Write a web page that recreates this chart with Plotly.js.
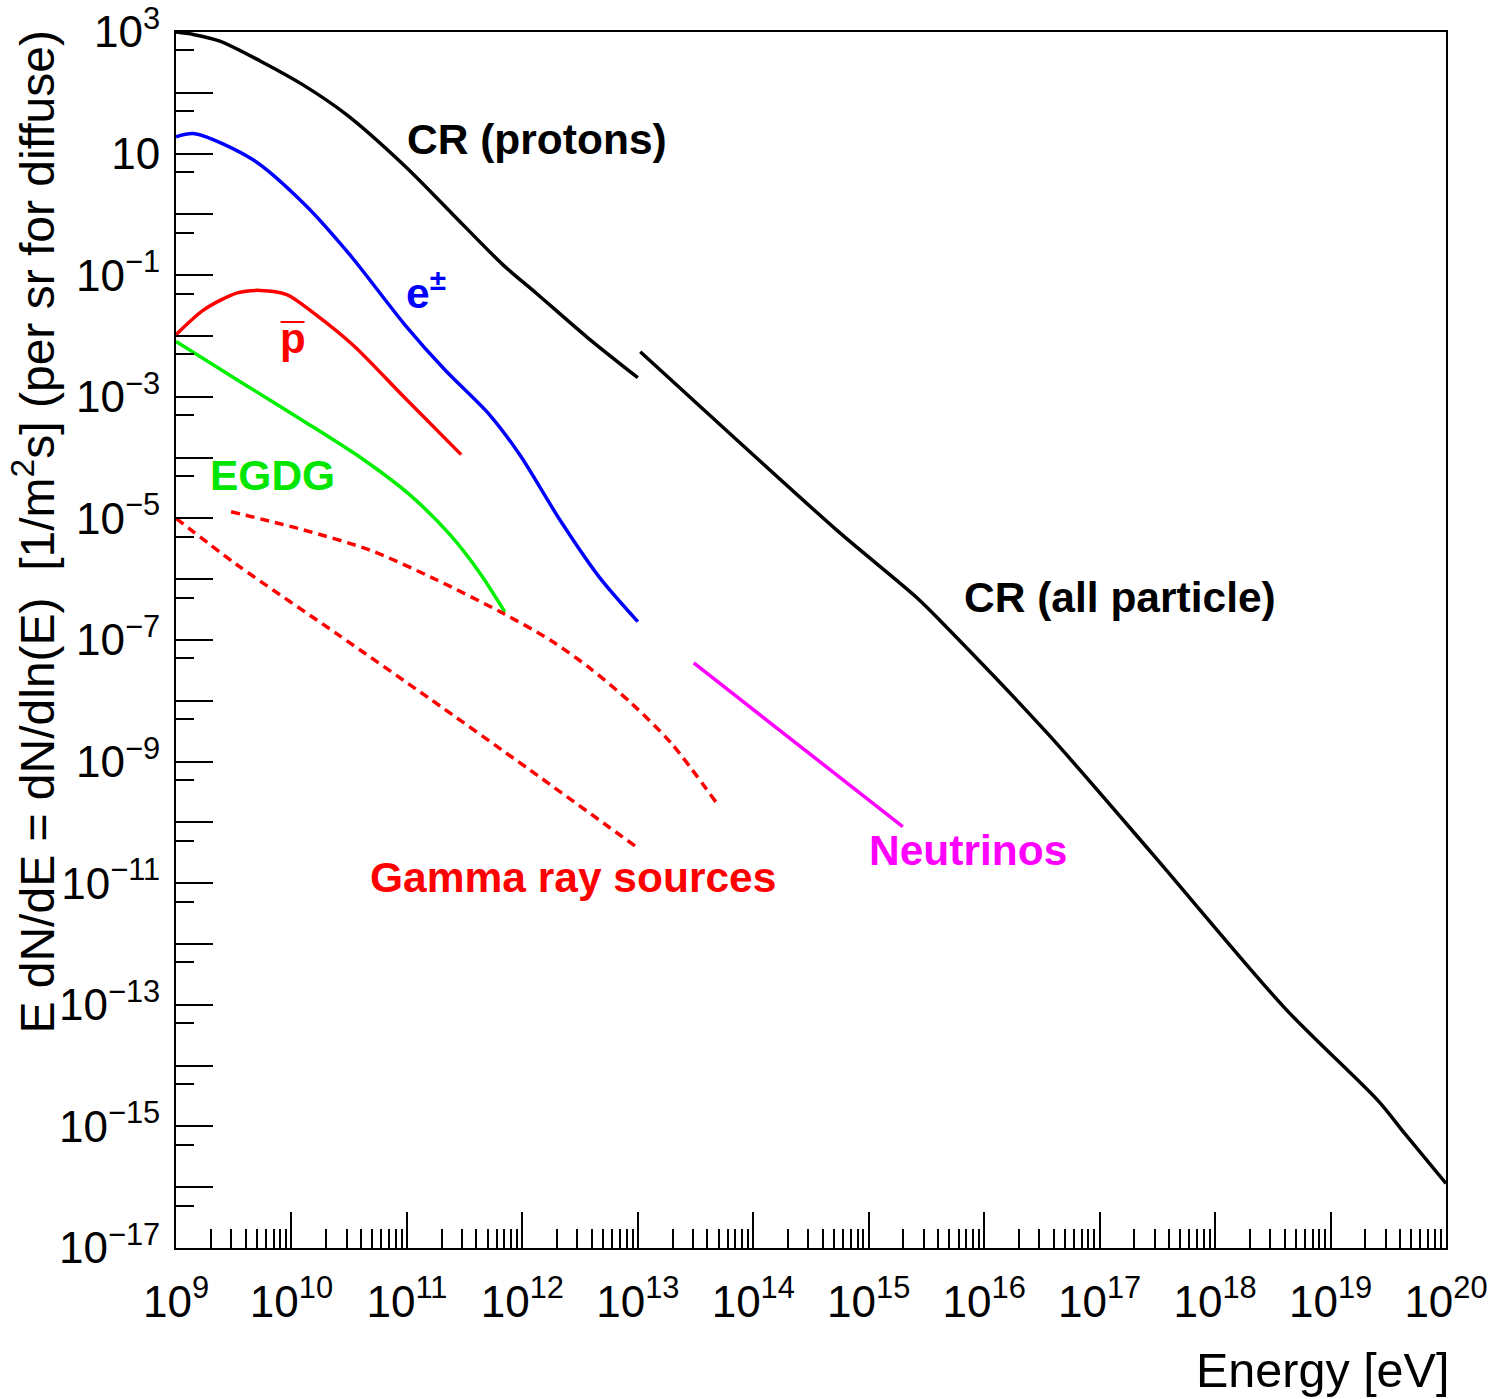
<!DOCTYPE html>
<html>
<head>
<meta charset="utf-8">
<script src="https://cdn.plot.ly/plotly-3.0.1.min.js"></script>
<style>body{margin:0;background:#fff}#chart{width:1496px;height:1399px}</style>
</head>
<body>
<div id="chart"></div>
<script>
// ---- data (energies in eV, flux E dN/dE) ----
const protonE   = [1e9, 1.41e9, 2.4e9, 5.4e9, 1.26e10, 3.0e10, 9.3e10, 2.5e11, 6.8e11, 1.32e12, 3.6e12, 1e13];
const protonF   = [1000, 912, 708, 331, 135, 43.7, 6.6, 1.0, 0.148, 0.0505, 0.0097, 0.00206];

const allE      = [1.05e13, 6.9e13, 5.5e14, 2.6e15, 4.5e15, 3.6e16, 2.9e17, 4.0e18, 2.6e19, 4.4e19, 1e20];
const allF      = [5.5e-3, 2.1e-4, 6.0e-6, 5.0e-7, 1.78e-7, 2.8e-9, 2.95e-11, 8.9e-14, 2.6e-15, 7.6e-16, 1.15e-16];

const elecE     = [1e9, 1.46e9, 4.65e9, 1.31e10, 3.2e10, 9.6e10, 2.13e11, 5.2e11, 9.5e11, 2.11e12, 4.69e12, 1e13];
const elecF     = [18.9, 21.2, 7.9, 1.44, 0.217, 0.0153, 2.78e-3, 5.06e-4, 1.11e-4, 9.5e-6, 1.05e-6, 2.0e-7];

const pbarE     = [1e9, 1.74e9, 3.4e9, 5.4e9, 9.1e9, 1.55e10, 3.5e10, 9.3e10, 2.95e11];
const pbarF     = [0.0105, 0.0269, 0.0513, 0.0562, 0.0479, 0.024, 6.8e-3, 1.02e-3, 1.12e-4];

const egdgE     = [1e9, 3.6e9, 1.26e10, 4.16e10, 1.06e11, 2.36e11, 4.28e11, 7.05e11];
const egdgF     = [8.1e-3, 1.77e-3, 4.04e-4, 9.4e-5, 2.44e-5, 5.4e-6, 1.27e-6, 2.9e-7];

const gammaLoE  = [1e9, 3.37e9, 2.48e10, 1.58e11, 1.16e12, 1e13];
const gammaLoF  = [1e-5, 1.73e-6, 1.26e-7, 1.08e-8, 7.3e-10, 3.8e-11];

const gammaHiE  = [3.0e9, 1.26e10, 4.8e10, 1.8e11, 6.8e11, 1.74e12, 3.8e12, 8.7e12, 1.95e13, 4.8e13];
const gammaHiF  = [1.29e-5, 6.5e-6, 3.0e-6, 9.8e-7, 2.75e-7, 1.0e-7, 3.5e-8, 9.3e-9, 2.0e-9, 2.1e-10];

const nuE       = [3.05e13, 1.97e15];
const nuF       = [4.2e-8, 8.5e-11];

// ---- axis ticks ----
const xExps = [9,10,11,12,13,14,15,16,17,18,19,20];
const yLabeled = [3,1,-1,-3,-5,-7,-9,-11,-13,-15,-17];
const yUnlabeled = [2,0,-2,-4,-6,-8,-10,-12,-14,-16];

// ---- labels ----
const labels = [
  {text:'CR (protons)',      lx:10.985, ly: 1.23,  color:'#000000'},
  {text:'e<sup>±</sup>',     lx:10.975, ly:-1.25,  color:'#0000ff'},
  {text:'EGDG',              lx: 9.275, ly:-4.30,  color:'#00e600'},
  {text:'CR (all particle)', lx:15.805, ly:-6.306, color:'#000000'},
  {text:'Gamma ray sources', lx:10.662, ly:-10.91, color:'#ff0000'},
  {text:'Neutrinos',         lx:14.983, ly:-10.47, color:'#ff00ff'}
];

const fam = '"Liberation Sans", Arial, Helvetica, sans-serif';
const sup = n => (n < 0 ? '\u2212' + (-n) : '' + n);

const xTickVals = xExps.map(e => Math.pow(10, e));
const xTickText = xExps.map(e => '10<sup>' + sup(e) + '</sup>');
const xMinor = [];
for (let e = 9; e < 20; e++) for (let k = 2; k <= 9; k++) xMinor.push(k * Math.pow(10, e));

const yTickVals = yLabeled.map(e => Math.pow(10, e));
const yTickText = yLabeled.map(e => e === 1 ? '10' : '10<sup>' + sup(e) + '</sup>');
const yMinor = [];
for (let e = 2; e >= -17; e--) yMinor.push(5 * Math.pow(10, e));
const y2TickVals = yUnlabeled.map(e => Math.pow(10, e));

function line(x, y, color, name, dash, yax) {
  return {x: x, y: y, type: 'scatter', mode: 'lines', name: name, showlegend: false, yaxis: yax || 'y',
    line: {color: color, width: 3.5, shape: 'spline', smoothing: 0.8, dash: dash || 'solid'}, hoverinfo: 'skip'};
}

const traces = [
  line(protonE, protonF, '#000000', 'CR (protons)'),
  line(allE, allF, '#000000', 'CR (all particle)'),
  line(elecE, elecF, '#0000ff', 'e±'),
  line(pbarE, pbarF, '#ff0000', 'antiprotons'),
  line(egdgE, egdgF, '#00ee00', 'EGDG'),
  line(gammaLoE, gammaLoF, '#ff0000', 'Gamma ray sources', '9px,6px'),
  line(gammaHiE, gammaHiF, '#ff0000', 'Gamma ray sources (2)', '9px,6px'),
  line(nuE, nuF, '#ff00ff', 'Neutrinos', 'solid', 'y2')
];

const annotations = labels.map(l => ({
  x: l.lx, y: l.ly, xref: 'x', yref: 'y', text: '<b>' + l.text + '</b>', showarrow: false,
  xanchor: 'left', yanchor: 'middle', font: {family: fam, size: 42.5, color: l.color}
}));
// antiproton symbol: p with overline
annotations.push({x: 10.013, y: -2.045, xref:'x', yref:'y', text:'<b>p</b>', showarrow:false,
  xanchor:'center', yanchor:'middle', font:{family: fam, size: 42, color:'#ff0000'}});
annotations.push({x: 10.013, y: -2.045, xref:'x', yref:'y', text:'<b>\u00af</b>', showarrow:false,
  xanchor:'center', yanchor:'middle', font:{family: fam, size: 42, color:'#ff0000'}});
// axis titles
annotations.push({x: 1.004, y: -0.1, xref:'paper', yref:'paper', text:'Energy [eV]', showarrow:false,
  xanchor:'right', yanchor:'middle', font:{family: fam, size: 48.5, color:'#000'}});
annotations.push({x: -0.112, y: 1.003, xref:'paper', yref:'paper',
  text:'E dN/dE = dN/dln(E) \u00a0[1/m<sup>2</sup>s] (per sr for diffuse)', showarrow:false, textangle:-90,
  xanchor:'center', yanchor:'top', font:{family: fam, size: 48, color:'#000'}});

const layout = {
  width: 1496, height: 1399,
  margin: {l: 176, r: 49.5, t: 32, b: 151, pad: 0},
  paper_bgcolor: '#ffffff', plot_bgcolor: '#ffffff',
  font: {family: fam, color: '#000'},
  xaxis: {
    type: 'log', range: [9, 20], showgrid: false, zeroline: false,
    showline: true, linecolor: '#000', linewidth: 2, mirror: true,
    tickmode: 'array', tickvals: xTickVals, ticktext: xTickText,
    ticks: 'inside', ticklen: 36, tickwidth: 2, tickcolor: '#000',
    ticklabelstandoff: 14,
    tickfont: {family: fam, size: 44, color: '#000'},
    minor: {tickmode: 'array', tickvals: xMinor, ticks: 'inside', ticklen: 19, tickwidth: 2, tickcolor: '#000', showgrid: false}
  },
  yaxis: {
    type: 'log', range: [-17, 3], showgrid: false, zeroline: false,
    showline: true, linecolor: '#000', linewidth: 2, mirror: true,
    tickmode: 'array', tickvals: yTickVals, ticktext: yTickText,
    ticks: 'inside', ticklen: 37, tickwidth: 2, tickcolor: '#000',
    ticklabelstandoff: 5,
    tickfont: {family: fam, size: 44, color: '#000'},
    minor: {tickmode: 'array', tickvals: yMinor, ticks: 'inside', ticklen: 18, tickwidth: 2, tickcolor: '#000', showgrid: false}
  },
  yaxis2: {
    type: 'log', range: [-17, 3], overlaying: 'y', side: 'left', anchor: 'x',
    showgrid: false, zeroline: false, showline: false, showticklabels: false,
    tickmode: 'array', tickvals: y2TickVals,
    ticks: 'inside', ticklen: 37, tickwidth: 2, tickcolor: '#000'
  },
  annotations: annotations,
  showlegend: false
};

Plotly.newPlot('chart', traces, layout, {displayModeBar: false, staticPlot: true});
</script>
</body>
</html>
